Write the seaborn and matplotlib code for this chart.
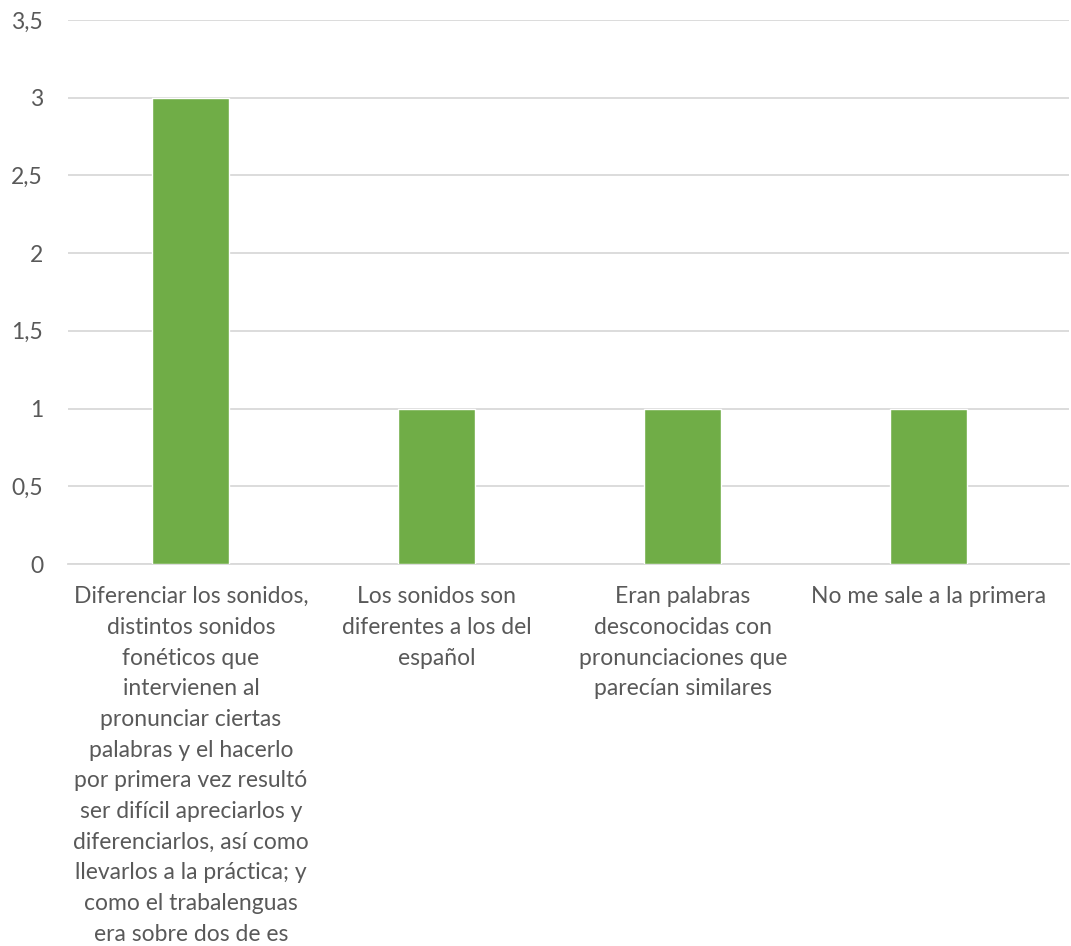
import matplotlib
matplotlib.use("Agg")
import matplotlib.pyplot as plt
from matplotlib.ticker import FuncFormatter
import seaborn as sns
import pandas as pd

categories = [
    "Diferenciar los sonidos,\ndistintos sonidos\nfonéticos que\nintervienen al\npronunciar ciertas\npalabras y el hacerlo\npor primera vez resultó\nser difícil apreciarlos y\ndiferenciarlos, así como\nllevarlos a la práctica; y\ncomo el trabalenguas\nera sobre dos de es",
    "Los sonidos son\ndiferentes a los del\nespañol",
    "Eran palabras\ndesconocidas con\npronunciaciones que\nparecían similares",
    "No me sale a la primera",
]
values = [3, 1, 1, 1]
y_ticks = [0, 0.5, 1, 1.5, 2, 2.5, 3, 3.5]

df = pd.DataFrame({"categoria": categories, "valor": values})

sns.set_theme(style="white")
plt.rcParams["font.family"] = ["Lato", "DejaVu Sans"]

text_color = "#595959"
grid_color = "#D9D9D9"

fig = plt.figure(figsize=(10.71, 9.46), dpi=100)
ax = fig.add_axes([0.0635, 0.4038, 0.9345, 0.5751])

sns.barplot(data=df, x="categoria", y="valor", color="#70AD47",
            width=0.313, saturation=1, ax=ax, zorder=3)

ax.set_xlim(-0.5, 3.569)
ax.set_ylim(0, 3.5)
ax.set_yticks(y_ticks)
ax.yaxis.set_major_formatter(FuncFormatter(
    lambda v, _: (f"{v:g}").replace(".", ",")))
ax.grid(axis="y", color=grid_color, linewidth=1.3, zorder=0)
ax.set_axisbelow(True)

for side in ("top", "right", "left"):
    ax.spines[side].set_visible(False)
ax.spines["bottom"].set_color(grid_color)
ax.spines["bottom"].set_linewidth(1.3)

ax.set_xlabel("")
ax.set_ylabel("")
ax.tick_params(axis="both", length=0, colors=text_color, labelsize=16.5)
ax.tick_params(axis="y", pad=18)
ax.tick_params(axis="x", pad=16)
for lbl in ax.get_xticklabels():
    lbl.set_linespacing(1.57)
    lbl.set_verticalalignment("top")

fig.savefig("out.png", dpi=100)
